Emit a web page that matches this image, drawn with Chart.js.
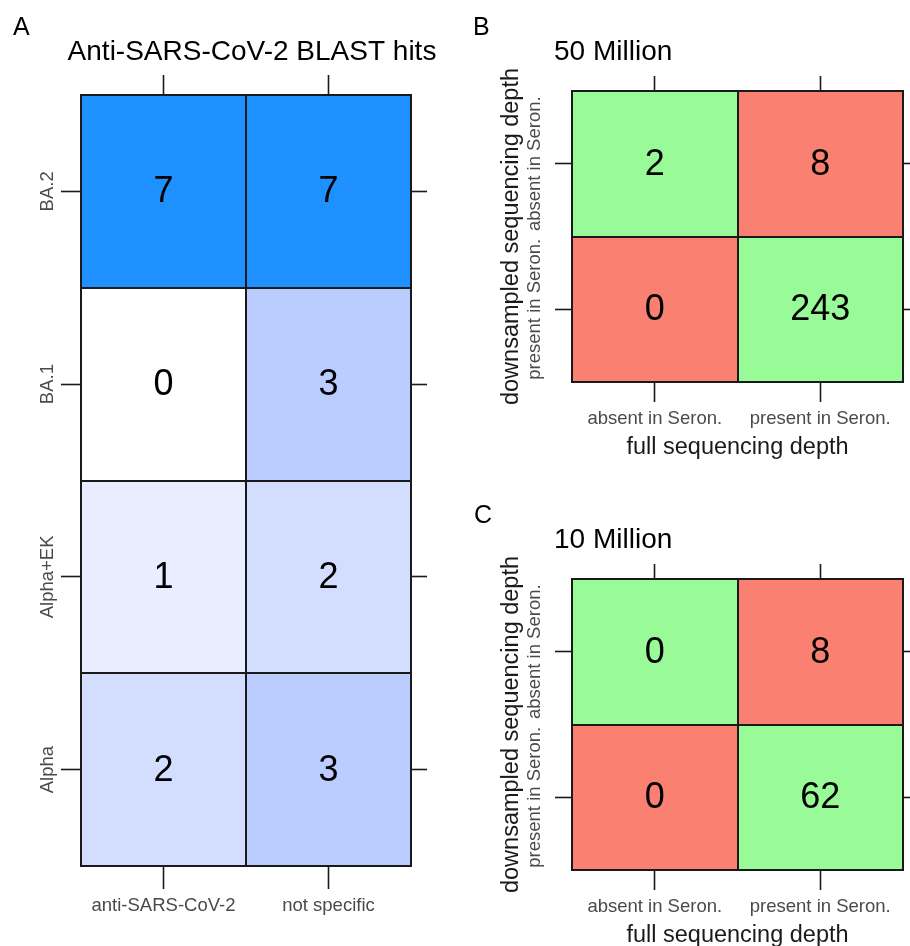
<!DOCTYPE html>
<html>
<head>
<meta charset="utf-8">
<script src="https://cdn.jsdelivr.net/npm/chart.js@4.4.1/dist/chart.umd.min.js"></script>
<style>
  html, body { margin: 0; padding: 0; background: #ffffff; overflow: hidden; width: 910px; height: 946px; }
  canvas { position: absolute; display: block; }
  #panelA { left: 0; top: 0; }
  #panelB { left: 465px; top: 0; }
  #panelC { left: 465px; top: 488px; }
</style>
</head>
<body>
<canvas id="panelA" width="465" height="946"></canvas>
<canvas id="panelB" width="445" height="488"></canvas>
<canvas id="panelC" width="445" height="488"></canvas>
<script>
// ---- data -------------------------------------------------------------
// Panel A: BLAST hit counts per variant
const hitColumns = ['anti-SARS-CoV-2', 'not specific'];
const variantRows = ['BA.2', 'BA.1', 'Alpha+EK', 'Alpha'];
const hitsBA2 = [7, 7];
const hitsBA1 = [0, 3];
const hitsAlphaEK = [1, 2];
const hitsAlpha = [2, 3];

// Panels B and C: presence at full vs. downsampled sequencing depth
const depthLabels = ['absent in Seron.', 'present in Seron.'];
const depth50M_absent = [2, 8];
const depth50M_present = [0, 243];
const depth10M_absent = [0, 8];
const depth10M_present = [0, 62];

// ---- styling ----------------------------------------------------------
const FAMILY = "'Liberation Sans', Arial, Helvetica, sans-serif";
const INK = '#1a1a1a';
const TICK_GREY = '#4a4a4a';
const TICK_SIZE = 18.5;
const AXIS_TITLE_SIZE = 23.5;
const hitShades = { 0: '#FFFFFF', 1: '#E8EEFF', 2: '#D3DEFF', 3: '#BBCDFF', 7: '#1E90FF' };
const AGREE = '#98FB98';
const DISAGREE = '#FA8072';

Chart.defaults.font.family = FAMILY;
Chart.defaults.color = INK;

// rotated y labels are centred on their tick; work out the padding that puts them at labelX
function yLabelPadding(labels, size, axisRight, tickLen, labelX) {
  const c = document.createElement('canvas').getContext('2d');
  c.font = size + 'px ' + FAMILY;
  const widest = Math.max(...labels.map(l => c.measureText(l).width));
  return axisRight - tickLen - widest / 2 - labelX;
}

// panel letter + heading
const panelHeading = {
  id: 'panelHeading',
  afterDraw(chart, args, o) {
    const ctx = chart.ctx;
    ctx.save();
    ctx.fillStyle = '#000';
    ctx.textBaseline = 'alphabetic';
    ctx.textAlign = 'left';
    ctx.font = o.letterSize + 'px ' + FAMILY;
    ctx.fillText(o.letter, o.letterX, o.letterY);
    ctx.textAlign = o.titleAlign;
    ctx.font = o.titleSize + 'px ' + FAMILY;
    ctx.fillText(o.title, o.titleX, o.titleY);
    ctx.restore();
  }
};

// count written in the middle of each cell
const cellValues = {
  id: 'cellValues',
  afterDatasetsDraw(chart, args, o) {
    const ctx = chart.ctx;
    ctx.save();
    ctx.fillStyle = '#000';
    ctx.font = o.size + 'px ' + FAMILY;
    ctx.textAlign = 'center';
    ctx.textBaseline = 'middle';
    chart.data.datasets.forEach((ds, i) => {
      chart.getDatasetMeta(i).data.forEach((bar, j) => {
        const p = bar.getCenterPoint();
        ctx.fillText(String(ds.counts[j]), p.x, p.y + o.dy);
      });
    });
    ctx.restore();
  }
};

// outer tick marks only
function tickGrid(len) {
  return {
    display: true, offset: false, drawOnChartArea: false, drawTicks: true,
    tickLength: len, tickColor: INK, tickWidth: 1.6
  };
}
// cell separators drawn across the plot, above the fills
const separatorGrid = {
  display: true, offset: true, drawOnChartArea: true, drawTicks: false,
  color: INK, lineWidth: 2, z: 1
};
const frame = { display: true, color: INK, width: 2, z: 1 };

function makeHeatmap(canvasId, cfg) {
  const g = cfg.geom;
  const rowTicks = s => { s.ticks = cfg.rows.map((_, i) => ({ value: i })); };
  const rowEdges = s => { s.ticks = [...cfg.rows, ''].map((_, i) => ({ value: i - 0.5 })); };
  const datasets = cfg.rows.map((name, r) => ({
    label: name,
    data: cfg.columns.map(() => [r - 0.5, r + 0.5]),
    counts: cfg.counts[r],
    backgroundColor: cfg.counts[r].map((v, c) => cfg.colourOf(v, r, c)),
    borderWidth: 0,
    barPercentage: 1,
    categoryPercentage: 1,
    grouped: false
  }));
  const yPad = yLabelPadding(cfg.rows, TICK_SIZE, g.left, g.tick.left, g.yLabelX);
  const rowRange = { min: -0.5, max: cfg.rows.length - 0.5, reverse: true };

  return new Chart(document.getElementById(canvasId), {
    type: 'bar',
    data: { labels: cfg.columns, datasets },
    plugins: [cellValues, panelHeading],
    options: {
      responsive: false,
      animation: false,
      devicePixelRatio: 1,
      layout: { padding: 0 },
      plugins: {
        legend: { display: false },
        tooltip: { enabled: false },
        cellValues: { size: cfg.valueSize, dy: 1 },
        panelHeading: cfg.heading
      },
      scales: {
        x: {
          type: 'category', position: 'bottom', offset: true,
          grid: tickGrid(g.tick.bottom), border: frame,
          ticks: { color: TICK_GREY, font: { size: TICK_SIZE }, padding: g.xLabelPad,
                   maxRotation: 0, minRotation: 0, autoSkip: false },
          title: cfg.xTitle
            ? { display: true, text: cfg.xTitle, color: INK, font: { size: AXIS_TITLE_SIZE },
                padding: { top: 0, bottom: g.xTitlePad } }
            : { display: false },
          afterFit: s => { s.height = g.H - g.bottom; }
        },
        x2: {
          type: 'category', position: 'top', offset: true,
          grid: tickGrid(g.tick.top), border: frame,
          ticks: { display: false },
          afterFit: s => { s.height = g.top; }
        },
        xSep: {
          type: 'category', position: 'top', offset: true,
          grid: separatorGrid, border: { display: false },
          ticks: { display: false },
          afterFit: s => { s.height = 0; }
        },
        y: {
          type: 'linear', position: 'left', ...rowRange,
          afterBuildTicks: rowTicks,
          grid: tickGrid(g.tick.left), border: frame,
          ticks: { callback: v => cfg.rows[v], color: TICK_GREY, font: { size: TICK_SIZE },
                   minRotation: 90, maxRotation: 90, crossAlign: 'center',
                   padding: yPad, autoSkip: false },
          title: cfg.yTitle
            ? { display: true, text: cfg.yTitle, color: INK, font: { size: AXIS_TITLE_SIZE },
                padding: { top: g.yTitlePad, bottom: 0 } }
            : { display: false },
          afterFit: s => { s.width = g.left; }
        },
        y2: {
          type: 'linear', position: 'right', ...rowRange,
          afterBuildTicks: rowTicks,
          grid: tickGrid(g.tick.right), border: frame,
          ticks: { display: false },
          afterFit: s => { s.width = g.W - g.right; }
        },
        ySep: {
          type: 'linear', position: 'right', ...rowRange,
          afterBuildTicks: rowEdges,
          grid: { ...separatorGrid, offset: false }, border: { display: false },
          ticks: { display: false },
          afterFit: s => { s.width = 0; }
        }
      }
    }
  });
}

// ---- panel A ----------------------------------------------------------
makeHeatmap('panelA', {
  columns: hitColumns,
  rows: variantRows,
  counts: [hitsBA2, hitsBA1, hitsAlphaEK, hitsAlpha],
  colourOf: v => hitShades[v],
  valueSize: 36,
  geom: { W: 465, H: 946, left: 81, right: 411, top: 95, bottom: 866,
          tick: { top: 20, right: 16, bottom: 23, left: 20 },
          yLabelX: 48, xLabelPad: 6 },
  heading: { letter: 'A', letterSize: 25, letterX: 13, letterY: 35,
             title: 'Anti-SARS-CoV-2 BLAST hits', titleSize: 28,
             titleAlign: 'center', titleX: 252, titleY: 60 }
});

// ---- panels B and C ---------------------------------------------------
const depthGeom = { W: 445, H: 488, left: 107, right: 438, top: 91, bottom: 382,
                    tick: { top: 15, right: 12, bottom: 20, left: 17 },
                    yLabelX: 70, xLabelPad: 6, xTitlePad: 26, yTitlePad: 32 };
const agreement = (v, r, c) => (r === c ? AGREE : DISAGREE);

makeHeatmap('panelB', {
  columns: depthLabels,
  rows: depthLabels,
  counts: [depth50M_absent, depth50M_present],
  colourOf: agreement,
  valueSize: 36,
  xTitle: 'full sequencing depth',
  yTitle: 'downsampled sequencing depth',
  geom: depthGeom,
  heading: { letter: 'B', letterSize: 25, letterX: 8, letterY: 35,
             title: '50 Million', titleSize: 28, titleAlign: 'left', titleX: 89, titleY: 60 }
});

makeHeatmap('panelC', {
  columns: depthLabels,
  rows: depthLabels,
  counts: [depth10M_absent, depth10M_present],
  colourOf: agreement,
  valueSize: 36,
  xTitle: 'full sequencing depth',
  yTitle: 'downsampled sequencing depth',
  geom: depthGeom,
  heading: { letter: 'C', letterSize: 25, letterX: 9, letterY: 35,
             title: '10 Million', titleSize: 28, titleAlign: 'left', titleX: 89, titleY: 60 }
});
</script>
</body>
</html>
